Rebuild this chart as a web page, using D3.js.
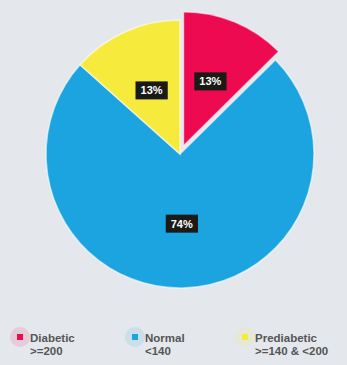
<!DOCTYPE html>
<html>
<head>
<meta charset="utf-8">
<script src="https://cdn.jsdelivr.net/npm/d3@7"></script>
<style>
  body { margin: 0; background: #e4e7eb; }
  svg { display: block; font-family: "Liberation Sans", Arial, sans-serif; }
</style>
</head>
<body>
<svg></svg>
<script>
// Data
const categories = ["Diabetic", "Normal", "Prediabetic"];
const ranges = [">=200", "<140", ">=140 & <200"];
const values = [12.6, 74.0, 13.4];
const labels = ["13%", "74%", "13%"];
const colors = ["#ee0a50", "#1ba4df", "#f6ea3c"];
const exploded = [true, false, false];

const width = 347, height = 365;
const cx = 180, cy = 154, radius = 134;

const svg = d3.select("svg").attr("width", width).attr("height", height);

const pie = d3.pie().sort(null).value(d => d.value);
const arc = d3.arc().innerRadius(0).outerRadius(radius);
const labelArc = d3.arc().innerRadius(radius * 0.52).outerRadius(radius * 0.52);

const data = categories.map((c, i) => ({ name: c, value: values[i], label: labels[i], color: colors[i], explode: exploded[i] }));
const arcs = pie(data);

const g = svg.append("g").attr("transform", `translate(${cx},${cy})`);

function offset(d) {
  if (!d.data.explode) return [0, 0];
  const a = (d.startAngle + d.endAngle) / 2;
  return [Math.sin(a) * 9, -Math.cos(a) * 9];
}

const slices = g.selectAll("g.slice")
  .data(arcs)
  .enter().append("g")
  .attr("class", "slice")
  .attr("transform", d => `translate(${offset(d)})`);

slices.append("path")
  .attr("d", arc)
  .attr("fill", d => d.data.color)
  .attr("stroke", "#ffffff")
  .attr("stroke-opacity", 0.6)
  .attr("stroke-width", 1.5);

// value labels with black boxes
slices.each(function(d) {
  const [x, y] = labelArc.centroid(d);
  const sel = d3.select(this);
  const t = sel.append("text")
    .attr("x", x).attr("y", y)
    .attr("text-anchor", "middle")
    .attr("dominant-baseline", "central")
    .attr("fill", "#ffffff")
    .attr("font-weight", "bold")
    .attr("font-size", 11)
    .text(d.data.label);
  const bb = t.node().getBBox();
  sel.insert("rect", "text")
    .attr("x", bb.x - 5).attr("y", y - 9)
    .attr("width", bb.width + 10).attr("height", 18)
    .attr("fill", "#1a1a16");
});

// Legend
const legendX = [18, 133, 243];
const legend = svg.selectAll("g.legend")
  .data(data)
  .enter().append("g")
  .attr("class", "legend")
  .attr("transform", (d, i) => `translate(${legendX[i]},336)`);

legend.append("circle")
  .attr("cx", 2).attr("cy", 1).attr("r", 10)
  .attr("fill", d => d.color)
  .attr("opacity", 0.12);

legend.append("rect")
  .attr("x", -1).attr("y", -2).attr("width", 6).attr("height", 6)
  .attr("fill", d => d.color);

legend.append("text")
  .attr("x", 12).attr("y", 6)
  .attr("font-size", 11.5)
  .attr("font-weight", "bold")
  .attr("fill", "#555")
  .text(d => d.name);

legend.append("text")
  .attr("x", 12).attr("y", 19)
  .attr("font-size", 11.5)
  .attr("font-weight", "bold")
  .attr("fill", "#555")
  .text((d, i) => ranges[i]);
</script>
</body>
</html>
